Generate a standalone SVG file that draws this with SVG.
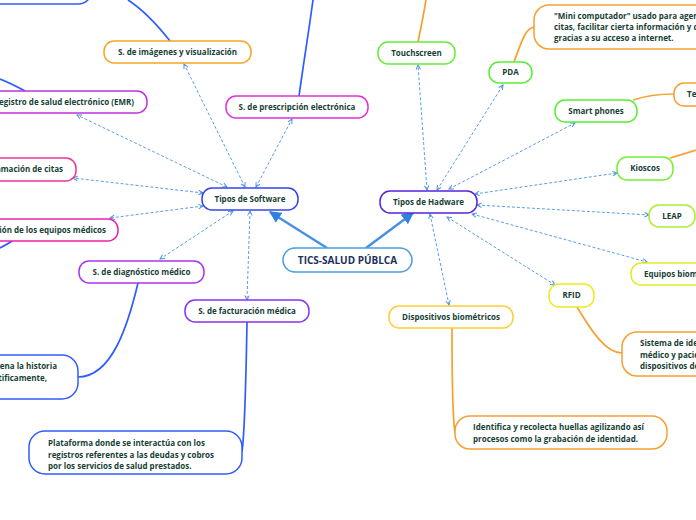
<svg xmlns="http://www.w3.org/2000/svg" width="696" height="520" viewBox="0 0 696 520">
<defs>
<marker id="da" viewBox="0 0 8 8" refX="7" refY="4" markerWidth="6" markerHeight="6" orient="auto-start-reverse" markerUnits="userSpaceOnUse">
<path d="M1,1 L7,4 L1,7" fill="none" stroke="#4a90e2" stroke-width="1.3"/>
</marker>
<marker id="big" viewBox="0 0 10 10" refX="9" refY="5" markerWidth="12" markerHeight="12" orient="auto" markerUnits="userSpaceOnUse">
<path d="M0,0 L10,5 L0,10 z" fill="#2f80e0"/>
</marker>
</defs>
<style>
.bx{fill:#ffffff;stroke-width:1.5}
.t{font-family:"Open Sans","Noto Sans","Liberation Sans",sans-serif;font-weight:700;font-size:8px;fill:#173f35}
.tc{font-family:"Open Sans","Noto Sans","Liberation Sans",sans-serif;font-weight:700;font-size:10px;fill:#1d2f5c}
.m{text-anchor:middle}
.e{text-anchor:end}
.dash{fill:none;stroke:#5a9ee8;stroke-width:1;stroke-dasharray:3 2;marker-start:url(#da);marker-end:url(#da)}
.main{fill:none;stroke:#4a90e2;stroke-width:2.5;marker-end:url(#big)}
.sb{fill:none;stroke:#2f5cff;stroke-width:1.7}
.so{fill:none;stroke:#f5a030;stroke-width:1.7}
</style>
<g id="connectors">
<path class="main" d="M327,248 L270,212"/>
<path class="main" d="M366,248 L413,213"/>
<path class="dash" d="M227,187 L77,115"/>
<path class="dash" d="M245,187 L184,64"/>
<path class="dash" d="M256,187 L292,119"/>
<path class="dash" d="M203,193 L73,178"/>
<path class="dash" d="M203,206 L110,218"/>
<path class="dash" d="M233,211 L160,259"/>
<path class="dash" d="M250,211 L247,300"/>
<path class="dash" d="M427,190 L418,65"/>
<path class="dash" d="M437,190 L503,85"/>
<path class="dash" d="M449,189 L575,123"/>
<path class="dash" d="M475,194 L617,173"/>
<path class="dash" d="M477,205 L649,215"/>
<path class="dash" d="M472,214 L647,262"/>
<path class="dash" d="M447,217 L555,285"/>
<path class="dash" d="M430,214 L449,305"/>
<path class="sb" d="M170,41 C155,22 142,9 128,0"/>
<path class="sb" d="M25,91 C16,86 8,82 0,79"/>
<path class="sb" d="M299,96 C304,60 309,30 313,0"/>
<path class="sb" d="M12,241 C8,244 4,246 0,248"/>
<path class="sb" d="M138,283 C128,325 112,377 78,377"/>
<path class="sb" d="M247,322 C246,380 245,430 242,452"/>
<path class="so" d="M418,42 C421,28 424,12 426,0"/>
<path class="so" d="M514,62 C522,40 526,27 535,27"/>
<path class="so" d="M633,100 C648,95 660,94 674,94"/>
<path class="so" d="M670,158 C680,155 690,152 696,150"/>
<path class="so" d="M577,307 C592,332 606,353 622,353"/>
<path class="so" d="M452,328 C452,380 453,420 455,433"/>
</g>
<g id="n-center"><rect class="bx" x="283" y="248" width="129" height="24" rx="12" stroke="#4a9de0"/><text class="tc m" x="347.5" y="263.5">TICS-SALUD PÚBLCA</text></g>
<g id="n-software"><rect class="bx" x="202" y="188" width="96" height="22" rx="10" stroke="#3344ee"/><text class="t m" x="250" y="201.8">Tipos de Software</text></g>
<g id="n-hardware"><rect class="bx" x="380" y="191" width="97" height="22" rx="10" stroke="#5522dd"/><text class="t m" x="428.5" y="204.8">Tipos de Hadware</text></g>
<g id="n-imagenes"><rect class="bx" x="104" y="41" width="147" height="22" rx="10" stroke="#f5a623"/><text class="t m" x="177.5" y="54.8">S. de imágenes y visualización</text></g>
<g id="n-prescripcion"><rect class="bx" x="226" y="96" width="142" height="22" rx="10" stroke="#e030d8"/><text class="t m" x="297" y="109.8">S. de prescripción electrónica</text></g>
<g id="n-emr"><rect class="bx" x="-20" y="91" width="167" height="22" rx="10" stroke="#bb33dd"/><text class="t e" x="134" y="104.8">Registro de salud electrónico (EMR)</text></g>
<g id="n-citas"><rect class="bx" x="-40" y="158" width="116" height="23" rx="10" stroke="#ee3399"/><text class="t e" x="63" y="171.8">Programación de citas</text></g>
<g id="n-equipos"><rect class="bx" x="-60" y="219" width="178" height="22" rx="10" stroke="#ee22aa"/><text class="t e" x="106" y="232.8">Gestión de los equipos médicos</text></g>
<g id="n-diagnostico"><rect class="bx" x="79" y="261" width="125" height="22" rx="10" stroke="#aa33ee"/><text class="t m" x="141.5" y="274.8">S. de diagnóstico médico</text></g>
<g id="n-facturacion"><rect class="bx" x="185" y="300" width="124" height="22" rx="10" stroke="#8833ee"/><text class="t m" x="247" y="313.8">S. de facturación médica</text></g>
<g id="n-topleft"><rect class="bx" x="-60" y="-40" width="152" height="44" rx="14" stroke="#2f5cff"/></g>
<g id="n-historia"><rect class="bx" x="-80" y="355" width="158" height="44" rx="16" stroke="#2f5cff"/><text class="t e" x="57" y="369">Almacena la historia</text><text class="t e" x="47" y="380.5">cientificamente,</text></g>
<g id="n-plataforma"><rect class="bx" x="29" y="431" width="213" height="43" rx="16" stroke="#2f5cff"/><text class="t" x="48" y="446">Plataforma donde se interactúa con los</text><text class="t" x="48" y="457.5">registros referentes a las deudas y cobros</text><text class="t" x="48" y="469">por los servicios de salud prestados.</text></g>
<g id="n-touchscreen"><rect class="bx" x="378" y="42" width="77" height="22" rx="10" stroke="#66ee33"/><text class="t m" x="416.5" y="55.8">Touchscreen</text></g>
<g id="n-pda"><rect class="bx" x="489" y="62" width="43" height="21" rx="10" stroke="#55ee33"/><text class="t m" x="510.5" y="75.3">PDA</text></g>
<g id="n-smart"><rect class="bx" x="555" y="100" width="82" height="22" rx="10" stroke="#55ee33"/><text class="t m" x="596" y="113.8">Smart phones</text></g>
<g id="n-kioscos"><rect class="bx" x="617" y="157" width="56" height="23" rx="10" stroke="#77ee33"/><text class="t m" x="645" y="171.3">Kioscos</text></g>
<g id="n-leap"><rect class="bx" x="649" y="205" width="46" height="22" rx="10" stroke="#aaee33"/><text class="t m" x="672" y="218.8">LEAP</text></g>
<g id="n-equiposbio"><rect class="bx" x="631" y="263" width="100" height="22" rx="10" stroke="#ddee22"/><text class="t" x="644" y="276.8">Equipos biométricos</text></g>
<g id="n-rfid"><rect class="bx" x="549" y="284" width="45" height="23" rx="10" stroke="#eeea22"/><text class="t m" x="571.5" y="298.3">RFID</text></g>
<g id="n-dispositivos"><rect class="bx" x="389" y="306" width="124" height="22" rx="10" stroke="#ffcc33"/><text class="t m" x="451" y="319.8">Dispositivos biométricos</text></g>
<g id="n-pdadesc"><rect class="bx" x="534" y="5" width="200" height="44" rx="15" stroke="#f5a030"/><text class="t" x="554" y="19">"Mini computador" usado para agendar</text><text class="t" x="554" y="30">citas, facilitar cierta información y comunicarse</text><text class="t" x="554" y="41">gracias a su acceso a internet.</text></g>
<g id="n-tele"><rect class="bx" x="674" y="83" width="60" height="23" rx="10" stroke="#f5a030"/><text class="t" x="687" y="97.3">Telemedicina</text></g>
<g id="n-rfiddesc"><rect class="bx" x="622" y="332" width="120" height="44" rx="15" stroke="#f5a030"/><text class="t" x="640" y="346">Sistema de identificación</text><text class="t" x="640" y="357.5">médico y paciente con</text><text class="t" x="640" y="369">dispositivos de</text></g>
<g id="n-dispdesc"><rect class="bx" x="455" y="416" width="212" height="33" rx="15" stroke="#f5a030"/><text class="t" x="473" y="430">Identifica y recolecta huellas agilizando así</text><text class="t" x="473" y="441.5">procesos como la grabación de identidad.</text></g>
</svg>
